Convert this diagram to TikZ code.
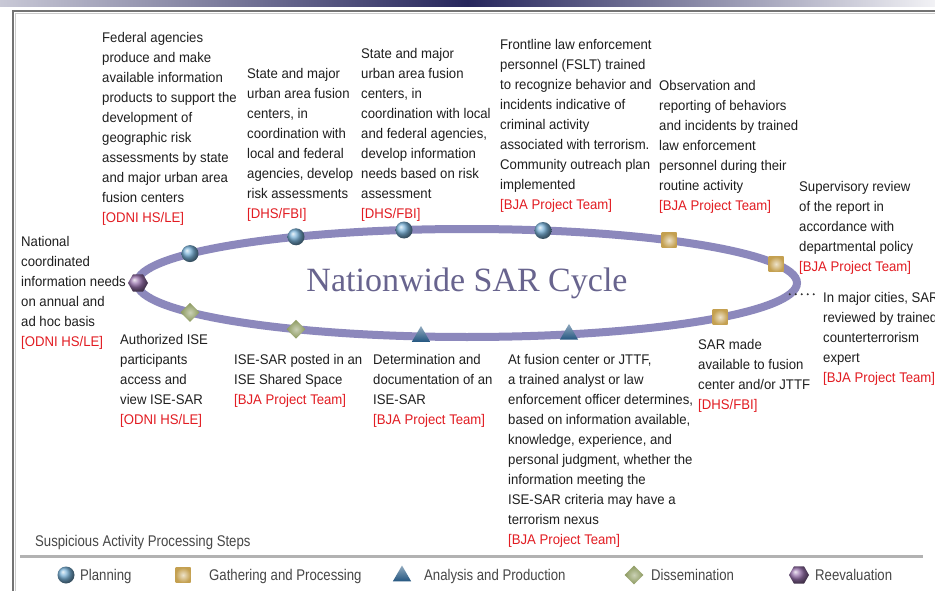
\documentclass[tikz,border=0pt]{standalone}
\usepackage{fontspec}
\setmainfont{Liberation Sans}[FakeStretch=0.94]
\newfontfamily\legfont{Liberation Sans}[FakeStretch=0.85]
\newfontfamily\titlefont{Liberation Serif}
\usetikzlibrary{shapes.geometric}

\definecolor{srcred}{RGB}{226,28,34}
\definecolor{ringlav}{RGB}{140,136,188}
\definecolor{titlegray}{RGB}{104,100,142}
\definecolor{planblue}{RGB}{120,176,214}
\definecolor{gathgold}{RGB}{196,160,80}
\definecolor{anablue}{RGB}{36,86,128}
\definecolor{dissgreen}{RGB}{138,152,92}
\definecolor{reevpurple}{RGB}{150,112,170}
\definecolor{barnavy}{RGB}{38,38,92}

\newcommand{\src}[1]{{\color{srcred}#1}}

\tikzstyle{cycleloop} = [ellipse, draw=ringlav, line width=8pt, minimum width=660pt, minimum height=108pt, outer sep=0pt, text=titlegray, font=\titlefont\fontsize{34}{40}\selectfont]
\tikzstyle{note} = [anchor=base west, align=left, inner sep=0pt, text=black!88, font=\fontsize{14}{20}\selectfont]
\tikzstyle{legtext} = [anchor=base west, inner sep=0pt, text=black!72, font=\legfont\fontsize{15.5}{18}\selectfont]
\tikzstyle{planning} = [circle, ball color=planblue, minimum size=17pt, inner sep=0pt]
\tikzstyle{gathering} = [rectangle, inner color=gathgold!30!white, outer color=gathgold, minimum size=15pt, inner sep=0pt]
\tikzstyle{analysis} = [regular polygon, regular polygon sides=3, top color=anablue!50!white, bottom color=anablue, minimum size=21pt, inner sep=0pt]
\tikzstyle{dissem} = [diamond, inner color=dissgreen!45!white, outer color=dissgreen, minimum size=19pt, inner sep=0pt]
\tikzstyle{reeval} = [regular polygon, regular polygon sides=6, ball color=reevpurple, minimum size=20pt, inner sep=0pt]
\tikzstyle{dotconn} = [line width=2.4pt, black!80, dash pattern=on 0pt off 6pt, line cap=round]

\begin{document}
\begin{tikzpicture}[x=1pt,y=-1pt]

\fill[white] (0,0) rectangle (935,591);
\useasboundingbox (0,0) rectangle (935,591);

% header bar and frame
\shade[left color=barnavy!25!white, right color=barnavy!6!white, middle color=barnavy] (0,0) rectangle (935,7);
\draw[line width=2.2pt, black!55] (13,591) -- (13,11) -- (935,11);
\draw[line width=1pt, black!20] (15.6,591) -- (15.6,13.6) -- (935,13.6);

% the cycle
\node (cycle) [cycleloop] at (467,283) {Nationwide SAR Cycle};

\node (m1) [reeval] at (138,283) {};
\node (m2) [planning] at (190,253.6) {};
\node (m3) [planning] at (296,236.8) {};
\node (m4) [planning] at (404,230) {};
\node (m5) [planning] at (543,230.5) {};
\node (m6) [gathering] at (669,240.3) {};
\node (m7) [gathering] at (776,264) {};
\node (m8) [gathering] at (720,317) {};
\node (m9) [analysis] at (569,334.4) {};
\node (m10) [analysis] at (421,336.5) {};
\node (m11) [dissem] at (296,329.2) {};
\node (m12) [dissem] at (190,312.4) {};

% step texts (placed by the baseline of their last line)
\node (s1) [note] at (102,222.5) {Federal agencies\\produce and make\\available information\\products to support the\\development of\\geographic risk\\assessments by state\\and major urban area\\fusion centers\\\src{[ODNI HS/LE]}};
\node (s2) [note] at (247,218.3) {State and major\\urban area fusion\\centers, in\\coordination with\\local and federal\\agencies, develop\\risk assessments\\\src{[DHS/FBI]}};
\node (s3) [note] at (361,218.3) {State and major\\urban area fusion\\centers, in\\coordination with local\\and federal agencies,\\develop information\\needs based on risk\\assessment\\\src{[DHS/FBI]}};
\node (s4) [note] at (500,209.5) {Frontline law enforcement\\personnel (FSLT) trained\\to recognize behavior and\\incidents indicative of\\criminal activity\\associated with terrorism.\\Community outreach plan\\implemented\\\src{[BJA Project Team]}};
\node (s5) [note] at (659,210.5) {Observation and\\reporting of behaviors\\and incidents by trained\\law enforcement\\personnel during their\\routine activity\\\src{[BJA Project Team]}};
\node (s6) [note] at (799,271.5) {Supervisory review\\of the report in\\accordance with\\departmental policy\\\src{[BJA Project Team]}};
\node (s7) [note] at (823,382) {In major cities, SAR\\reviewed by trained\\counterterrorism\\expert\\\src{[BJA Project Team]}};
\node (s8) [note] at (21,346.5) {National\\coordinated\\information needs\\on annual and\\ad hoc basis\\\src{[ODNI HS/LE]}};
\node (s9) [note] at (120,424.5) {Authorized ISE\\participants\\access and\\view ISE-SAR\\\src{[ODNI HS/LE]}};
\node (s10) [note] at (234,404.5) {ISE-SAR posted in an\\ISE Shared Space\\\src{[BJA Project Team]}};
\node (s11) [note] at (373,424.5) {Determination and\\documentation of an\\ISE-SAR\\\src{[BJA Project Team]}};
\node (s12) [note] at (508,544) {At fusion center or JTTF,\\a trained analyst or law\\enforcement officer determines,\\based on information available,\\knowledge, experience, and\\personal judgment, whether the\\information meeting the\\ISE-SAR criteria may have a\\terrorism nexus\\\src{[BJA Project Team]}};
\node (s13) [note] at (698,409.5) {SAR made\\available to fusion\\center and/or JTTF\\\src{[DHS/FBI]}};

\draw [dotconn, shorten >=4pt] (cycle.-2.5) -- (cycle.-2.5 -| s7.west);

% legend
\node (cap) [legtext] at (35,546) {Suspicious Activity Processing Steps};
\draw[line width=3pt, black!30] (20,556) -- (923,556);

\node (k1) [planning] at (66,575) {};
\node (k2) [gathering] at (183,575) {};
\node (k3) [analysis] at (402,576) {};
\node (k4) [dissem] at (634,575) {};
\node (k5) [reeval] at (799,575) {};
\node (l1) [legtext] at (80,580.5) {Planning};
\node (l2) [legtext] at (209,580.5) {Gathering and Processing};
\node (l3) [legtext] at (424,580.5) {Analysis and Production};
\node (l4) [legtext] at (651,580.5) {Dissemination};
\node (l5) [legtext] at (815,580.5) {Reevaluation};

\end{tikzpicture}
\end{document}
